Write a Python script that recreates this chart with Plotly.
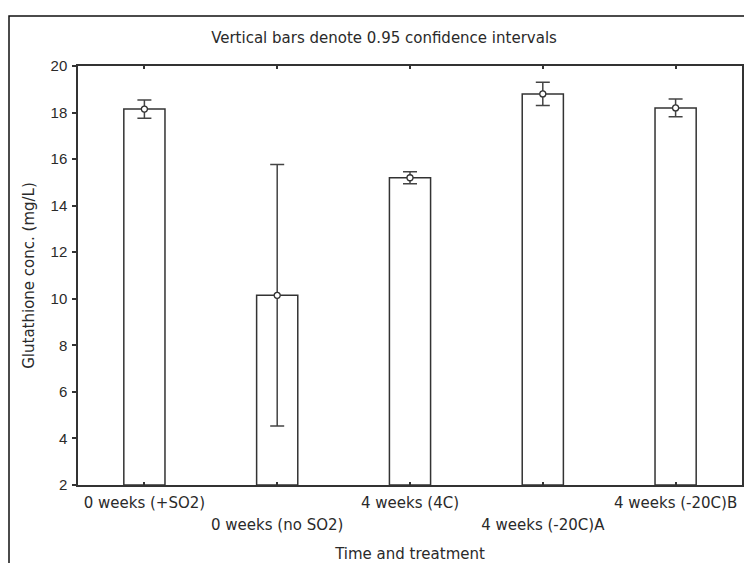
import plotly.graph_objects as go

categories = ["0 weeks (+SO2)", "0 weeks (no SO2)", "4 weeks (4C)", "4 weeks (-20C)A", "4 weeks (-20C)B"]
means = [18.15, 10.15, 15.2, 18.8, 18.2]
ci_half = [0.39, 5.62, 0.26, 0.5, 0.38]
y_ticks = [2, 4, 6, 8, 10, 12, 14, 16, 18, 20]

TEXT_FONT = "DejaVu Sans, Verdana, sans-serif"
NUM_FONT = "Liberation Sans, Arial, sans-serif"
LINE = "#333333"
TXT = "#2a2a2a"
W, H = 744, 563
ML, MT = 78, 66
PR, PB = 742, 485
MR, MB = W - PR, H - PB
PW, PH = PR - ML, PB - MT

x_idx = list(range(len(categories)))
even_idx = [i for i in x_idx if i % 2 == 0]
odd_idx = [i for i in x_idx if i % 2 == 1]

fig = go.Figure()
fig.add_trace(go.Bar(
    x=x_idx, y=[m - 2 for m in means], base=2, width=0.31,
    marker=dict(color="white", line=dict(color=LINE, width=1.5)),
    hoverinfo="skip", showlegend=False,
))
fig.add_trace(go.Scatter(
    x=x_idx, y=means, mode="markers", xaxis="x2",
    marker=dict(symbol="circle", size=6, color="white", line=dict(color=LINE, width=1.3)),
    error_y=dict(type="data", array=ci_half, symmetric=True, color="#444444", thickness=1.5, width=7),
    showlegend=False,
))

def px_to_paper_x(px):
    return (px - ML) / PW

def px_to_paper_y(py):
    return (PB - py) / PH

fig.add_shape(type="rect", xref="paper", yref="paper",
              x0=px_to_paper_x(9), x1=px_to_paper_x(790),
              y0=px_to_paper_y(640), y1=px_to_paper_y(16),
              line=dict(color="#111111", width=1.5), layer="below")

fig.update_layout(
    width=W, height=H,
    margin=dict(l=ML, r=MR, t=MT, b=MB, autoexpand=False),
    paper_bgcolor="white", plot_bgcolor="white",
    font=dict(family=TEXT_FONT, size=15, color=TXT),
    title=dict(text="Vertical bars denote 0.95 confidence intervals",
               xref="container", yref="container", x=384 / W, y=1 - 38 / H,
               xanchor="center", yanchor="middle",
               font=dict(family=TEXT_FONT, size=15, color=TXT)),
    xaxis=dict(
        range=[-0.5, 4.5], tickmode="array", tickvals=even_idx,
        ticktext=[categories[i] for i in even_idx],
        ticks="inside", ticklen=3, tickcolor=LINE, tickwidth=1.5,
        showline=True, linecolor=LINE, linewidth=1.5, mirror="ticks",
        showgrid=False, zeroline=False, automargin=False, ticklabelstandoff=3,
        ticklabeloverflow="allow",
        title=dict(text="Time and treatment", standoff=38, font=dict(size=15)),
        tickfont=dict(size=15),
    ),
    xaxis2=dict(
        range=[-0.5, 4.5], overlaying="x", side="bottom", anchor="y",
        tickmode="array", tickvals=odd_idx, ticktext=[categories[i] for i in odd_idx],
        ticks="inside", ticklen=3, tickcolor=LINE, tickwidth=1.5,
        showline=True, linecolor=LINE, linewidth=1.5, mirror="ticks",
        showgrid=False, zeroline=False, automargin=False,
        ticklabelstandoff=25, tickfont=dict(size=15), ticklabeloverflow="allow",
    ),
    yaxis=dict(
        range=[2, 20], tickmode="array", tickvals=y_ticks,
        ticks="outside", ticklen=4, tickcolor=LINE, tickwidth=1.5,
        showline=True, linecolor=LINE, linewidth=1.5, mirror=True,
        showgrid=False, zeroline=False, automargin=False, ticklabelstandoff=2,
        title=dict(text="Glutathione conc. (mg/L)", standoff=12, font=dict(size=15)),
        tickfont=dict(family=NUM_FONT, size=15),
    ),
    yaxis2=dict(
        range=[2, 20], overlaying="y", side="right", anchor="x", tickmode="array", tickvals=y_ticks,
        ticks="inside", ticklen=4, tickcolor=LINE, tickwidth=1.5, automargin=False,
        showticklabels=False, showgrid=False, zeroline=False, showline=False,
    ),
)

fig.write_html("out.html", config={"displayModeBar": False},
               post_script="document.body.style.margin='0';document.body.style.overflow='hidden';")
